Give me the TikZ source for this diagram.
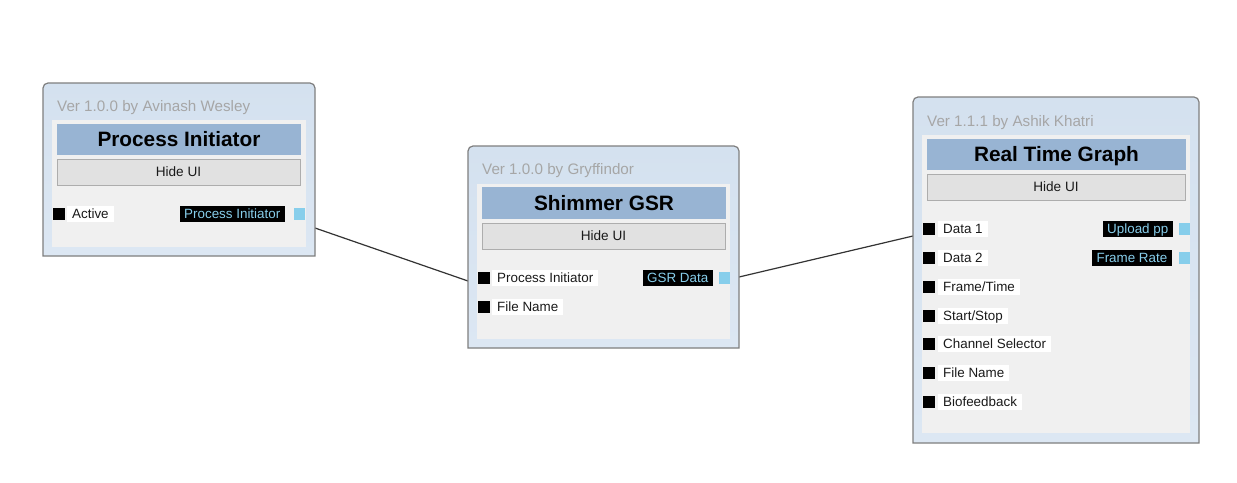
\documentclass[tikz,border=0pt]{standalone}
\usepackage{fontspec}
\setmainfont{Liberation Sans}
\usetikzlibrary{calc}
\definecolor{framebluetop}{HTML}{D4E1EF}
\definecolor{frameblue}{HTML}{DCE7F3}
\definecolor{panelgray}{HTML}{F0F0F0}
\definecolor{titleblue}{HTML}{98B4D3}
\definecolor{btngray}{HTML}{E1E1E1}
\definecolor{btnborder}{HTML}{ADADAD}
\definecolor{vergray}{HTML}{A6A6A6}
\definecolor{portblue}{HTML}{87CEEB}
\definecolor{framebord}{HTML}{7F7F7F}
\definecolor{wirecol}{HTML}{333333}
\definecolor{textdark}{HTML}{1A1A1A}
\newcommand\mytitlefont{\fontsize{20.8}{24}\selectfont\bfseries}
\newcommand\myverfont{\fontsize{15.2}{18}\selectfont}
\newcommand\myhidefont{\fontsize{13.6}{16}\selectfont}
\newcommand\mylblfont{\fontsize{13.4}{16}\selectfont}
\newcommand\mkframe[1]{%
  \path[draw=framebord, line width=1.2pt, top color=framebluetop, bottom color=frameblue]
  (#1.south west) -- ([yshift=-5pt]#1.north west) arc[start angle=180,end angle=90,radius=5pt]
  -- ([xshift=-5pt]#1.north east) arc[start angle=90,end angle=0,radius=5pt]
  -- (#1.south east) -- cycle;}
\tikzset{
  frm/.style={draw=none, inner sep=0pt, outer sep=0pt},
  ttl/.style={fill=titleblue, inner sep=0pt, text height=14.9pt, text depth=0pt, font=\mytitlefont, text=black},
  hidebtn/.style={fill=btngray, draw=btnborder, line width=1pt, inner sep=0pt, text height=9.7pt, text depth=0pt, font=\myhidefont, text=textdark},
  ver/.style={anchor=base west, inner sep=0pt, font=\myverfont, text=vergray},
  insq/.style={fill=black, minimum width=12pt, minimum height=12pt, inner sep=0pt},
  outsq/.style={fill=portblue, minimum width=11pt, minimum height=12pt, inner sep=0pt},
  inlbl/.style={anchor=west, fill=white, inner xsep=5pt, inner ysep=0pt, minimum height=16pt, text height=9.6pt, text depth=0pt, font=\mylblfont, text=textdark},
  outlbl/.style={anchor=east, fill=black, inner xsep=4.5pt, inner ysep=0pt, minimum height=16pt, text height=9.6pt, text depth=0pt, font=\mylblfont, text=portblue},
  wire/.style={draw=wirecol, line width=1.2pt},
}
\begin{document}
\begin{tikzpicture}[x=1pt,y=-1pt]
\fill[white] (0,0) rectangle (1237,482);
\useasboundingbox (0,0) rectangle (1237,482);

% frame placeholders
\node[frm, minimum width=272pt, minimum height=173pt] (b1) at (179,169.5) {};
\node[frm, minimum width=271pt, minimum height=202pt] (b2) at (603.5,247) {};
\node[frm, minimum width=286pt, minimum height=346pt] (b3) at (1056,270) {};

% wires
\draw[wire] ([yshift=-58.5pt]b1.east) -- ([yshift=-34pt]b2.west);
\draw[wire] ([yshift=-30pt]b2.east) -- ([yshift=34pt]b3.west);

% ---- box 1
\mkframe{b1}
\fill[panelgray] (52,120) rectangle (306,247);
\node[ver] (b1v) at (57,111.7) {Ver 1.0.0 by Avinash Wesley};
\node[ttl, minimum width=244pt, minimum height=31pt] (b1t) at (179,139.5) {Process Initiator};
\node[hidebtn, minimum width=243pt, minimum height=26pt] (b1h) at (178.5,172) {Hide UI};
\node[insq] (b1i1) at (58.5,214) {};
\node[inlbl] (b1i1l) at (67,214) {Active};
\node[outsq] (b1o1) at (299.5,214) {};
\node[outlbl] (b1o1l) at (285,214) {Process Initiator};

% ---- box 2
\mkframe{b2}
\fill[panelgray] (477,184) rectangle (730,339);
\node[ver] (b2v) at (482,174.7) {Ver 1.0.0 by Gryffindor};
\node[ttl, minimum width=244pt, minimum height=32pt] (b2t) at (604,203) {Shimmer GSR};
\node[hidebtn, minimum width=243pt, minimum height=26pt] (b2h) at (603.5,236) {Hide UI};
\node[insq] (b2i1) at (483.5,278) {};
\node[inlbl] (b2i1l) at (492,278) {Process Initiator};
\node[insq] (b2i2) at (483.5,307) {};
\node[inlbl] (b2i2l) at (492,307) {File Name};
\node[outsq] (b2o1) at (724.5,278) {};
\node[outlbl] (b2o1l) at (713,278) {GSR Data};

% ---- box 3
\mkframe{b3}
\fill[panelgray] (922,135) rectangle (1190,433);
\node[ver] (b3v) at (927,126.7) {Ver 1.1.1 by Ashik Khatri};
\node[ttl, minimum width=259pt, minimum height=31pt] (b3t) at (1056.5,154.5) {Real Time Graph};
\node[hidebtn, minimum width=258pt, minimum height=26pt] (b3h) at (1056,187) {Hide UI};
\foreach \yy/\txt/\nm in {229/Data 1/1, 258/Data 2/2, 287/Frame\slash Time/3, 316/Start\slash Stop/4, 344/Channel Selector/5, 373/File Name/6, 402/Biofeedback/7}{
  \node[insq] (b3i\nm) at (928.5,\yy) {};
  \node[inlbl] (b3i\nm l) at (938,\yy) {\txt};
}
\node[outsq] (b3o1) at (1184,229) {};
\node[outlbl] (b3o1l) at (1173,229) {Upload pp};
\node[outsq] (b3o2) at (1184,258) {};
\node[outlbl] (b3o2l) at (1172,258) {Frame Rate};
\end{tikzpicture}
\end{document}
